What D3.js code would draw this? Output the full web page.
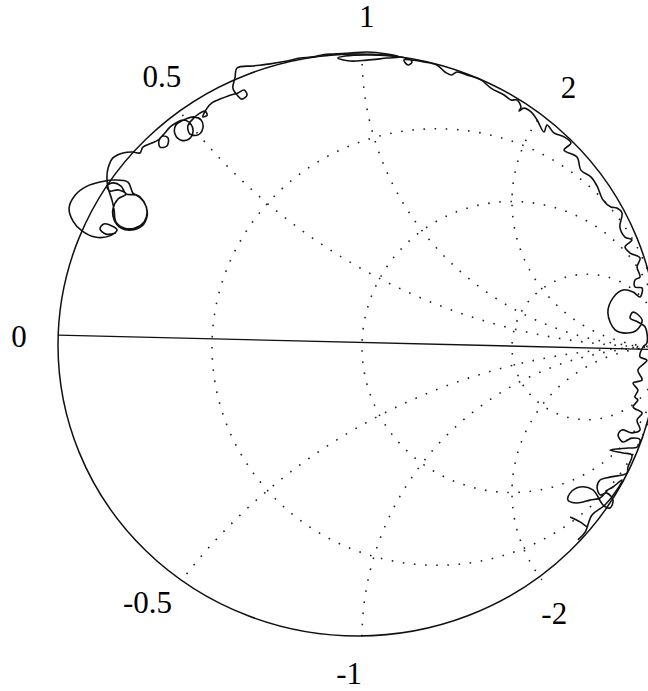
<!DOCTYPE html>
<html>
<head>
<meta charset="utf-8">
<script src="https://cdn.jsdelivr.net/npm/d3@7"></script>
<style>
  html, body { margin: 0; padding: 0; background: #fff; }
  svg { display: block; }
  .label { font-family: "Liberation Serif", "DejaVu Serif", serif; font-size: 31px; fill: #000; }
</style>
</head>
<body>
<div id="app"></div>
<script>
// ----- Data (reflection coefficient plane, u = Re, v = Im) -----

const resistances = [1 / 3, 1, 3];
const reactances = [0.5, 1, 2, -0.5, -1, -2];
const labelValues = [0, 0.5, 1, 2, -0.5, -1, -2];
const labelTexts = ["0", "0.5", "1", "2", "-0.5", "-1", "-2"];

// solid line through the chart (slightly tilted in the scan)
const realAxis = [[-1.0, 0.034], [1.0, -0.016]];

const trace = [
    [-0.807, 0.385], [-0.840, 0.381], [-0.860, 0.399], [-0.847, 0.416], [-0.820, 0.409],
    [-0.803, 0.395], [-0.827, 0.375], [-0.877, 0.371], [-0.920, 0.392], [-0.950, 0.426],
    [-0.963, 0.471], [-0.943, 0.515], [-0.903, 0.546], [-0.860, 0.560], [-0.817, 0.567],
    [-0.767, 0.560], [-0.750, 0.522], [-0.727, 0.509], [-0.707, 0.478], [-0.703, 0.443],
    [-0.720, 0.409], [-0.753, 0.395], [-0.790, 0.402], [-0.813, 0.430], [-0.817, 0.467],
    [-0.800, 0.502], [-0.773, 0.519], [-0.800, 0.533], [-0.827, 0.529], [-0.837, 0.546],
    [-0.817, 0.557], [-0.790, 0.546], [-0.773, 0.519], [-0.740, 0.515], [-0.713, 0.491],
    [-0.703, 0.457], [-0.713, 0.423], [-0.743, 0.402], [-0.780, 0.402], [-0.807, 0.423],
    [-0.813, 0.464], [-0.820, 0.498], [-0.833, 0.540], [-0.837, 0.574], [-0.833, 0.608],
    [-0.817, 0.643], [-0.783, 0.660], [-0.750, 0.663], [-0.727, 0.660], [-0.717, 0.680],
    [-0.687, 0.694], [-0.667, 0.704], [-0.650, 0.718], [-0.633, 0.711], [-0.637, 0.684],
    [-0.660, 0.680], [-0.663, 0.704], [-0.643, 0.729], [-0.627, 0.749], [-0.607, 0.763],
    [-0.583, 0.773], [-0.557, 0.759], [-0.550, 0.732], [-0.563, 0.708], [-0.590, 0.704],
    [-0.610, 0.725], [-0.607, 0.756], [-0.573, 0.777], [-0.547, 0.784], [-0.523, 0.773],
    [-0.517, 0.746], [-0.533, 0.722], [-0.560, 0.725], [-0.567, 0.753], [-0.547, 0.780],
    [-0.527, 0.797], [-0.510, 0.804], [-0.503, 0.790], [-0.517, 0.784], [-0.503, 0.814],
    [-0.487, 0.832], [-0.460, 0.845], [-0.433, 0.856], [-0.400, 0.866], [-0.380, 0.876],
    [-0.370, 0.859], [-0.387, 0.845], [-0.403, 0.859], [-0.417, 0.883], [-0.410, 0.918],
    [-0.403, 0.952], [-0.350, 0.959], [-0.293, 0.966], [-0.237, 0.976], [-0.193, 0.986],
    [-0.150, 0.990], [-0.117, 0.997], [-0.083, 1.000], [-0.027, 1.003], [0.030, 1.007],
    [0.097, 1.000], [0.140, 0.990], [0.097, 0.986], [0.030, 0.979], [-0.027, 0.976],
    [-0.067, 0.986], [-0.043, 0.993], [0.030, 0.997], [0.113, 0.993], [0.157, 0.986],
    [0.180, 0.973], [0.167, 0.962], [0.153, 0.979], [0.187, 0.979], [0.220, 0.973],
    [0.263, 0.962], [0.290, 0.938], [0.310, 0.928], [0.330, 0.938], [0.363, 0.928],
    [0.410, 0.911], [0.443, 0.883], [0.487, 0.859], [0.510, 0.842], [0.530, 0.842],
    [0.543, 0.818], [0.537, 0.804], [0.553, 0.814], [0.577, 0.801], [0.597, 0.773],
    [0.620, 0.732], [0.630, 0.756], [0.653, 0.729], [0.687, 0.715], [0.710, 0.694],
    [0.687, 0.670], [0.730, 0.646], [0.743, 0.601], [0.777, 0.577], [0.797, 0.546],
    [0.817, 0.498], [0.843, 0.474], [0.863, 0.471], [0.880, 0.454], [0.873, 0.405],
    [0.890, 0.371], [0.913, 0.361], [0.890, 0.337], [0.907, 0.316], [0.940, 0.299],
    [0.930, 0.268], [0.940, 0.234], [0.923, 0.223], [0.923, 0.199], [0.947, 0.196],
    [0.940, 0.165], [0.917, 0.182], [0.883, 0.189], [0.850, 0.162], [0.833, 0.110],
    [0.857, 0.052], [0.897, 0.041], [0.930, 0.052], [0.947, 0.086], [0.917, 0.113],
    [0.907, 0.093], [0.933, 0.079], [0.957, 0.062], [0.963, 0.007], [0.950, -0.007],
    [0.940, -0.041], [0.963, -0.052], [0.933, -0.086], [0.947, -0.120], [0.917, -0.131],
    [0.933, -0.155], [0.923, -0.179], [0.933, -0.189], [0.917, -0.213], [0.947, -0.234],
    [0.930, -0.258], [0.940, -0.292], [0.913, -0.302], [0.880, -0.292], [0.867, -0.309],
    [0.883, -0.333], [0.913, -0.320], [0.940, -0.326], [0.930, -0.351], [0.900, -0.354],
    [0.840, -0.361], [0.883, -0.371], [0.913, -0.378], [0.900, -0.419], [0.897, -0.440],
    [0.880, -0.447], [0.840, -0.454], [0.807, -0.464], [0.797, -0.488], [0.807, -0.515],
    [0.830, -0.509], [0.850, -0.533], [0.840, -0.560], [0.817, -0.550], [0.783, -0.498],
    [0.740, -0.488], [0.707, -0.509], [0.700, -0.533], [0.730, -0.543], [0.773, -0.533],
    [0.807, -0.526], [0.833, -0.498], [0.850, -0.488], [0.880, -0.464], [0.863, -0.498],
    [0.823, -0.550], [0.780, -0.584], [0.757, -0.643], [0.733, -0.670]
];
const traceTail = [[0.707, -0.591], [0.740, -0.608], [0.763, -0.625]];

// ----- Layout -----
const Width = 648, Height = 691;
const CX = 358, CY = 345, RX = 300, RY = 291;
const GridShift = [4, 2];      // dotted grid sits a little off the rim in the scan
const LabelRadius = 1.13;
const LabelTurn = -1.5 * Math.PI / 180;

function main() {
    const svg = d3.select("#app").append("svg")
        .attr("width", Width)
        .attr("height", Height);

    svg.append("rect").attr("width", Width).attr("height", Height).attr("fill", "#fff");

    const x = d3.scaleLinear().domain([-1, 1]).range([CX - RX, CX + RX]);
    const y = d3.scaleLinear().domain([-1, 1]).range([CY + RY, CY - RY]);
    const sx = d => x(d) - x(0);   // horizontal length
    const sy = d => y(0) - y(d);   // vertical length

    // clip to the unit circle
    svg.append("clipPath").attr("id", "unit")
        .append("ellipse")
        .attr("cx", x(0)).attr("cy", y(0))
        .attr("rx", sx(1)).attr("ry", sy(1));

    const grid = svg.append("g")
        .attr("transform", `translate(${GridShift[0]},${GridShift[1]})`)
        .attr("clip-path", "url(#unit)")
        .attr("fill", "none")
        .attr("stroke", "#222")
        .attr("stroke-width", 1.6)
        .attr("stroke-dasharray", "1.6 9.6");

    // constant resistance circles
    grid.selectAll(".rcirc")
        .data(resistances)
        .enter()
        .append("ellipse")
            .attr("class", "rcirc")
            .attr("cx", r => x(r / (1 + r)))
            .attr("cy", y(0))
            .attr("rx", r => sx(1 / (1 + r)))
            .attr("ry", r => sy(1 / (1 + r)));

    // constant reactance arcs
    grid.selectAll(".xarc")
        .data(reactances)
        .enter()
        .append("ellipse")
            .attr("class", "xarc")
            .attr("cx", x(1))
            .attr("cy", k => y(1 / k))
            .attr("rx", k => sx(1 / Math.abs(k)))
            .attr("ry", k => sy(1 / Math.abs(k)));

    // outer rim
    svg.append("ellipse")
        .attr("cx", x(0)).attr("cy", y(0))
        .attr("rx", sx(1)).attr("ry", sy(1))
        .attr("fill", "none")
        .attr("stroke", "#111")
        .attr("stroke-width", 1.5);

    const line = d3.line()
        .x(d => x(d[0]))
        .y(d => y(d[1]));

    svg.append("path")
        .datum(realAxis)
        .attr("d", line)
        .attr("fill", "none")
        .attr("stroke", "#111")
        .attr("stroke-width", 1.4);

    const traceLine = d3.line()
        .x(d => x(d[0]))
        .y(d => y(d[1]))
        .curve(d3.curveCatmullRom.alpha(0.5));

    svg.selectAll(".trace")
        .data([trace, traceTail])
        .enter()
        .append("path")
            .attr("class", "trace")
            .attr("d", traceLine)
            .attr("fill", "none")
            .attr("stroke", "#111")
            .attr("stroke-width", 1.6)
            .attr("stroke-linejoin", "round");

    // labels at the ends of the reactance arcs
    const labelPos = k => {
        const a = Math.atan2(2 * k, k * k - 1) + LabelTurn;
        return [LabelRadius * Math.cos(a), LabelRadius * Math.sin(a)];
    };

    svg.selectAll(".label")
        .data(labelValues)
        .enter()
        .append("text")
            .attr("class", "label")
            .attr("text-anchor", "middle")
            .attr("dominant-baseline", "central")
            .attr("x", k => x(labelPos(k)[0]))
            .attr("y", k => y(labelPos(k)[1]))
            .text((k, i) => labelTexts[i]);
}

main();
</script>
</body>
</html>
